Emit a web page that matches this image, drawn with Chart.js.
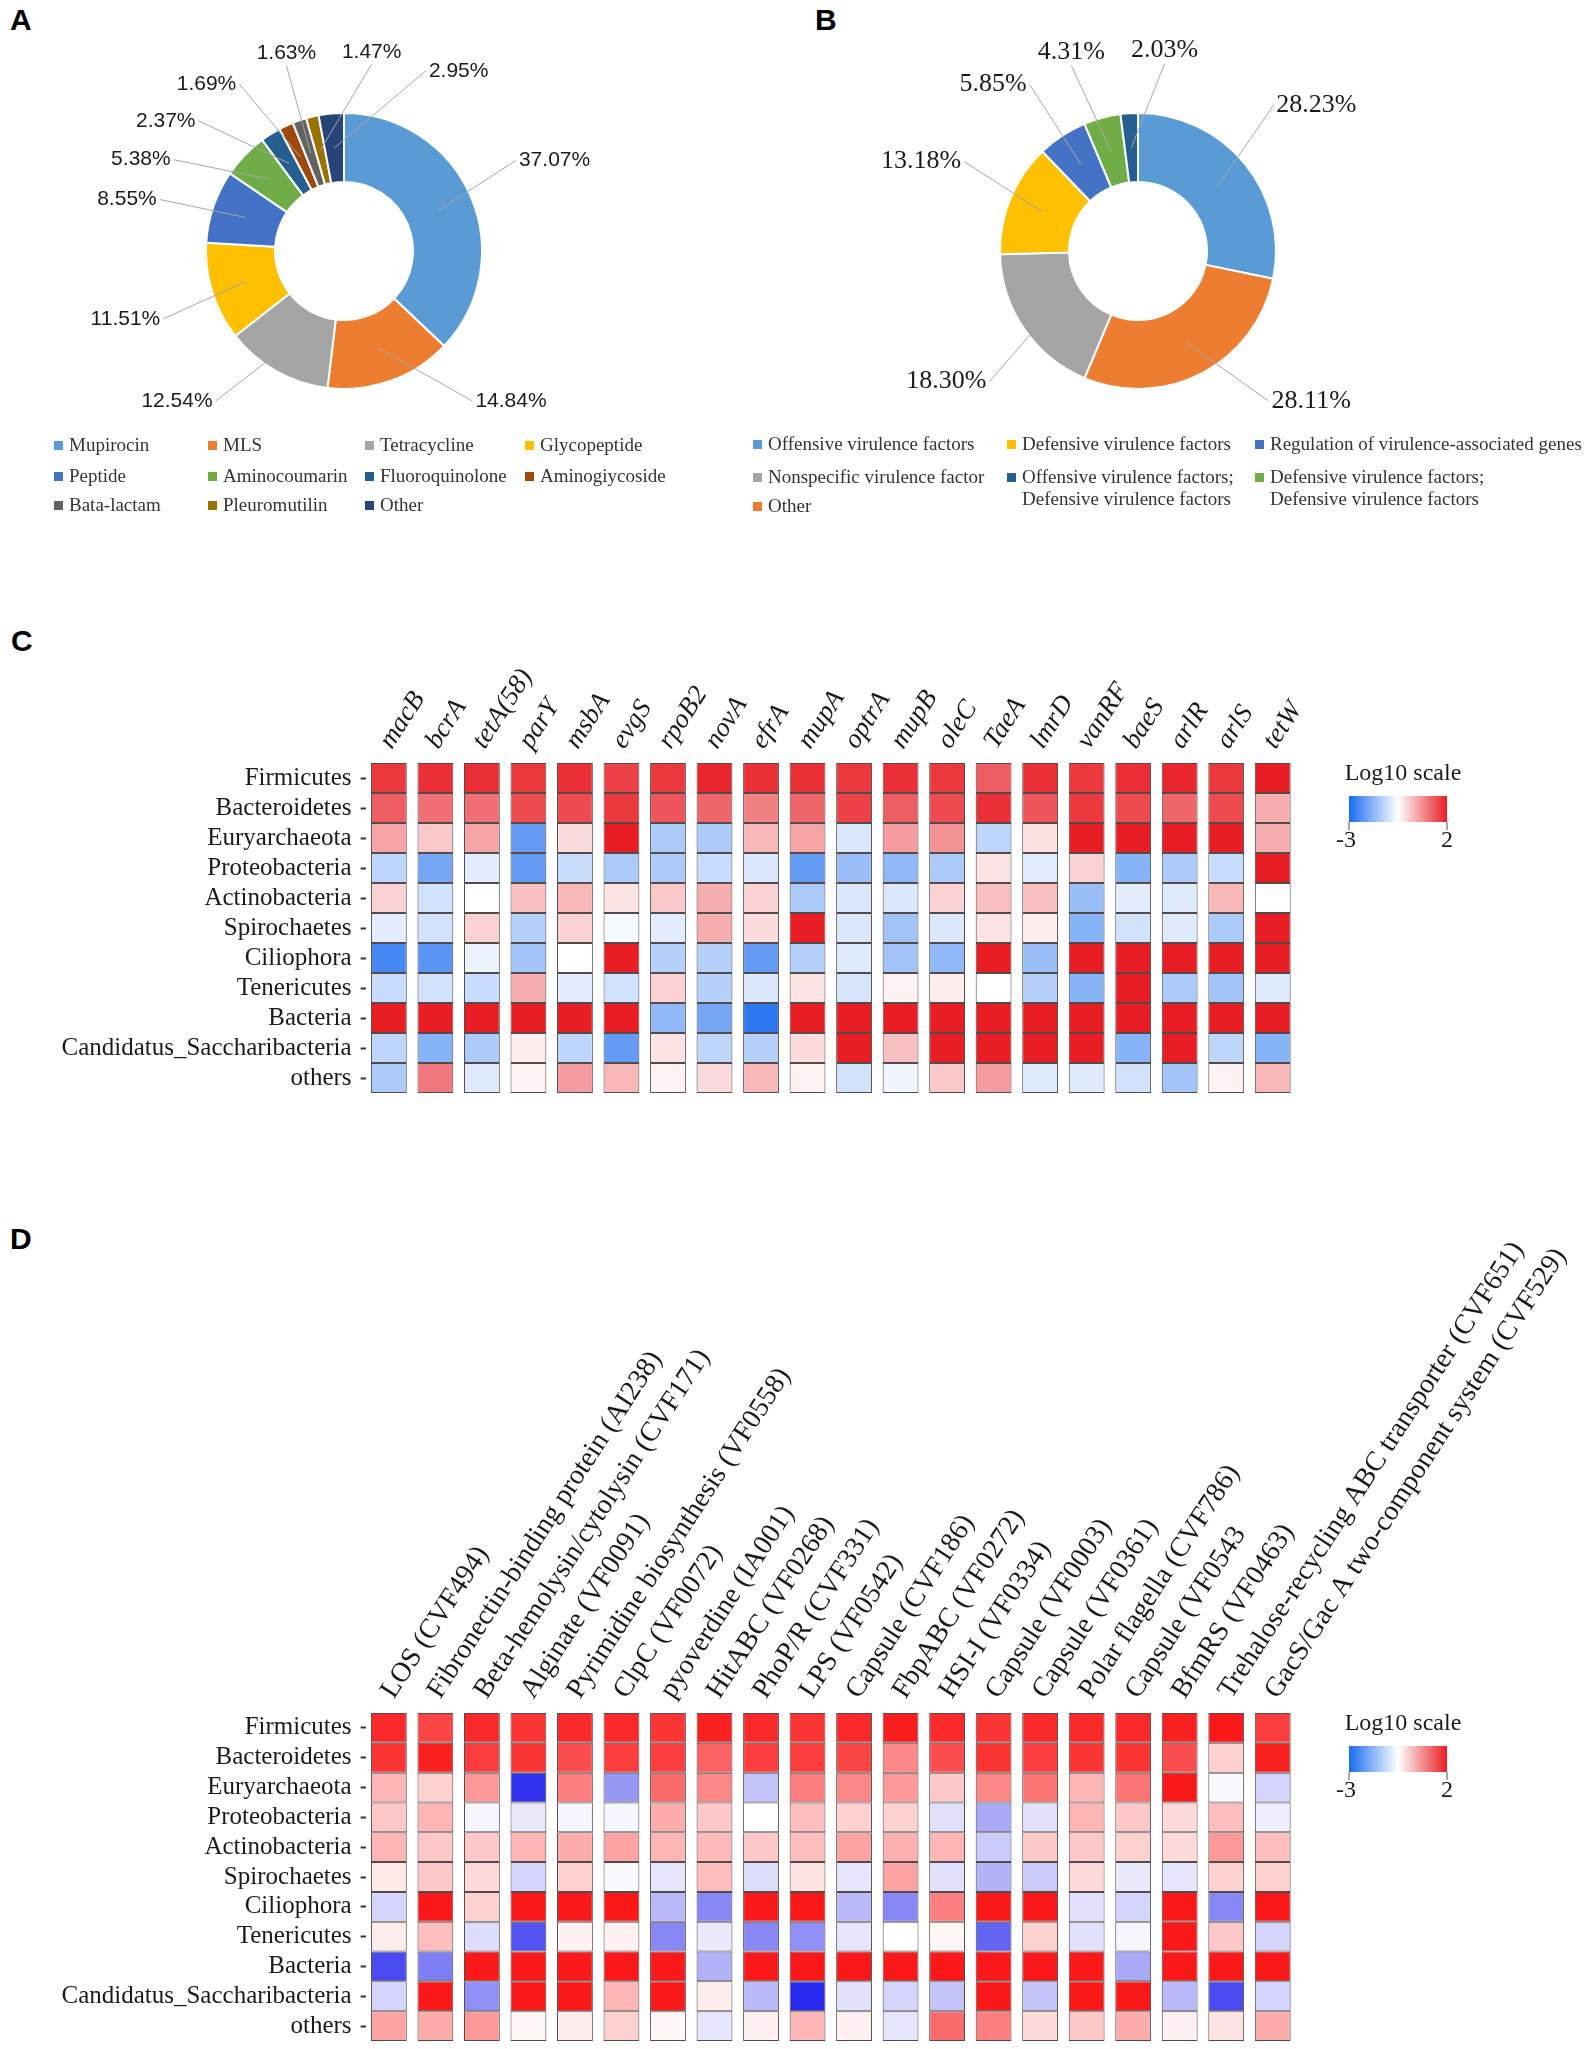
<!DOCTYPE html>
<html>
<head>
<meta charset="utf-8">
<script src="https://cdn.jsdelivr.net/npm/chart.js@4.4.0/dist/chart.umd.min.js"></script>
<style>
body { margin: 0; background: #fff; }
#page { position: relative; width: 1594px; height: 2049px; overflow: hidden; background: #fff; font-family: 'Liberation Serif', 'Times New Roman', serif; }
.box { position: absolute; }
.tag { position: absolute; font: bold 30px/30px 'Liberation Sans', Arial, sans-serif; color: #000; }
.lg { position: absolute; font-size: 19px; line-height: 22px; color: #333; white-space: pre; padding-left: 15px; }
.lg i { position: absolute; left: 0; top: 7px; width: 9px; height: 9px; }
</style>
</head>
<body>
<div id="page">
  <div class="tag" style="left:10px;top:5px">A</div>
  <div class="tag" style="left:815px;top:5px">B</div>
  <div class="tag" style="left:11px;top:626px">C</div>
  <div class="tag" style="left:10px;top:1224px">D</div>
  <div class="box" style="left:0;top:0;width:688px;height:502px"><canvas id="pieA"></canvas></div>
  <div class="box" style="left:794px;top:0;width:688px;height:502px"><canvas id="pieB"></canvas></div>
  <div class="box" style="left:0;top:600px;width:1594px;height:493px"><canvas id="heatC"></canvas></div>
  <div class="box" style="left:0;top:1100px;width:1594px;height:941px"><canvas id="heatD"></canvas></div>
</div>
<script>
// ---- panel A: resistance gene classes
const argClasses = ['Mupirocin', 'MLS', 'Tetracycline', 'Glycopeptide', 'Peptide', 'Aminocoumarin',
  'Fluoroquinolone', 'Aminogiycoside', 'Bata-lactam', 'Pleuromutilin', 'Other'];
const argShare = [37.07, 14.84, 12.54, 11.51, 8.55, 5.38, 2.37, 1.69, 1.63, 1.47, 2.95];
const argColors = ['#5b9bd5', '#ed7d31', '#a5a5a5', '#ffc000', '#4472c4', '#70ad47',
  '#255e91', '#9e480e', '#636363', '#997300', '#264478'];

// ---- panel B: virulence factor classes (clockwise from top)
const vfClasses = ['Offensive virulence factors', 'Other', 'Nonspecific virulence factor',
  'Defensive virulence factors', 'Regulation of virulence-associated genes',
  'Defensive virulence factors;\nDefensive virulence factors',
  'Offensive virulence factors;\nDefensive virulence factors'];
const vfShare = [28.23, 28.11, 18.30, 13.18, 5.85, 4.31, 2.03];
const vfColors = ['#5b9bd5', '#ed7d31', '#a5a5a5', '#ffc000', '#4472c4', '#70ad47', '#255e91'];
const vfLegendOrder = [0, 3, 4, 2, 6, 5, 1];

// ---- heatmaps C and D
const taxa = ['Firmicutes', 'Bacteroidetes', 'Euryarchaeota', 'Proteobacteria', 'Actinobacteria',
  'Spirochaetes', 'Ciliophora', 'Tenericutes', 'Bacteria', 'Candidatus_Saccharibacteria', 'others'];
const scaleTicks = [-3, 2];

const argGenes = ['macB', 'bcrA', 'tetA(58)', 'parY', 'msbA', 'evgS', 'rpoB2', 'novA', 'efrA', 'mupA',
  'optrA', 'mupB', 'oleC', 'TaeA', 'lmrD', 'vanRF', 'baeS', 'arlR', 'arlS', 'tetW'];
// log10 abundance, one row per taxon
const argLog = [
  [1.7, 1.8, 1.8, 1.7, 1.8, 1.6, 1.7, 1.9, 1.8, 1.8, 1.7, 1.8, 1.7, 1.3, 1.8, 1.7, 1.8, 1.9, 1.7, 2.0],
  [1.3, 1.1, 1.1, 1.5, 1.5, 1.7, 1.4, 1.2, 0.9, 1.2, 1.6, 1.3, 1.5, 1.8, 1.4, 1.7, 1.5, 1.2, 1.5, 0.4],
  [0.5, 0.1, 0.5, -2.2, -0.1, 2.0, -1.4, -1.4, 0.3, 0.5, -0.9, 0.6, 0.7, -1.2, -0.15, 2.0, 2.0, 2.0, 2.0, 0.4],
  [-1.2, -2.0, -0.8, -2.2, -1.1, -1.4, -1.4, -1.1, -0.9, -2.2, -1.6, -1.7, -1.4, -0.2, -0.8, 0.0, -1.8, -1.4, -1.1, 2.0],
  [0.0, -1.0, -0.5, 0.2, 0.3, -0.2, 0.1, 0.4, 0.0, -1.4, -0.9, -0.9, 0.0, 0.2, 0.2, -1.6, -0.8, -0.85, 0.3, -0.5],
  [-0.8, -1.0, 0.0, -1.3, 0.0, -0.6, -0.8, 0.4, -0.1, 2.0, -0.9, -1.5, -0.9, -0.2, -0.3, -1.8, -1.0, -0.85, -1.4, 2.0],
  [-2.5, -2.3, -0.7, -1.5, -0.5, 2.0, -1.3, -1.3, -2.2, -1.3, -0.85, -1.5, -1.7, 2.0, -1.6, 2.0, 2.0, 2.0, 2.0, 2.0],
  [-1.1, -1.0, -1.1, 0.4, -0.8, -1.0, 0.0, -1.3, -0.9, -0.2, -0.95, -0.35, -0.3, -0.5, -1.3, -1.8, 2.0, -1.4, -1.5, -0.85],
  [2.0, 2.0, 2.0, 2.0, 2.0, 2.0, -1.7, -2.0, -2.8, 2.0, 2.0, 2.0, 2.0, 2.0, 2.0, 2.0, 2.0, 2.0, 2.0, 2.0],
  [-1.2, -1.8, -1.4, -0.3, -1.2, -2.2, -0.2, -1.2, -1.3, -0.1, 2.0, 0.2, 2.0, 2.0, 2.0, 2.0, -1.8, 2.0, -1.2, -1.8],
  [-1.4, 1.0, -0.85, -0.35, 0.6, 0.3, -0.35, -0.1, 0.3, -0.35, -1.0, -0.65, 0.1, 0.6, -0.85, -0.85, -1.0, -1.5, -0.35, 0.3]
];

const vfGenes = ['LOS (CVF494)', 'Fibronectin-binding protein (AI238)', 'Beta-hemolysin/cytolysin (CVF171)',
  'Alginate (VF0091)', 'Pyrimidine biosynthesis (VF0558)', 'ClpC (VF0072)', 'pyoverdine (IA001)',
  'HitABC (VF0268)', 'PhoP/R (CVF331)', 'LPS (VF0542)', 'Capsule (CVF186)', 'FbpABC (VF0272)',
  'HSI-I (VF0334)', 'Capsule (VF0003)', 'Capsule (VF0361)', 'Polar flagella (CVF786)', 'Capsule (VF0543',
  'BfmRS (VF0463)', 'Trehalose-recycling ABC transporter (CVF651)', 'GacS/Gac A two-component system (CVF529)'];
const vfLog = [
  [1.8, 1.5, 1.8, 1.7, 1.8, 1.8, 1.7, 1.9, 1.8, 1.7, 1.8, 1.95, 1.8, 1.7, 1.8, 1.8, 1.8, 1.9, 2.0, 1.6],
  [1.7, 1.9, 1.6, 1.7, 1.4, 1.6, 1.6, 1.2, 1.6, 1.6, 1.5, 0.8, 1.4, 1.7, 1.6, 1.7, 1.7, 1.4, 0.0, 1.9],
  [0.3, 0.0, 0.6, -2.9, 0.9, -1.7, 1.1, 0.8, -1.2, 0.9, 0.8, 0.6, 0.1, 0.8, 1.0, 0.3, 1.0, 2.0, -0.55, -1.0],
  [0.1, 0.3, -0.6, -0.75, -0.6, -0.6, 0.4, 0.1, -0.5, 0.2, 0.0, 0.0, -0.85, -1.5, -0.85, 0.3, 0.1, -0.1, 0.2, -0.7],
  [0.3, 0.1, 0.1, 0.3, 0.4, 0.5, 0.3, 0.25, 0.1, 0.2, 0.5, 0.35, 0.3, -1.1, 0.1, 0.1, 0.0, -0.1, 0.6, 0.2],
  [-0.25, 0.1, -0.1, -1.0, 0.0, -0.55, -0.8, 0.2, -0.9, -0.2, -0.8, 0.5, -0.85, -1.4, -1.1, -0.1, -0.75, -0.8, 0.0, 0.0],
  [-1.0, 2.0, 0.0, 2.0, 2.0, 2.0, -1.3, -1.9, 2.0, 2.0, -1.3, -1.9, 0.9, 2.0, 2.0, -0.85, -1.0, 2.0, -1.9, 2.0],
  [-0.3, 0.2, -0.9, -2.5, -0.35, -0.35, -1.9, -0.75, -1.9, -1.8, -0.8, -0.5, -0.4, -2.3, 0.0, -0.85, -0.6, 2.0, 0.1, -1.0],
  [-2.6, -2.0, 2.0, 2.0, 2.0, 2.0, 2.0, -1.4, 2.0, 2.0, 2.0, 2.0, 2.0, 2.0, 2.0, 2.0, -1.5, 2.0, 2.0, 2.0],
  [-1.0, 2.0, -1.8, 2.0, 2.0, 0.3, 2.0, -0.3, -1.3, -3.0, -0.85, -1.0, -1.2, 2.0, -1.2, 2.0, 2.0, -1.3, -2.6, -1.0],
  [0.5, 0.4, 0.6, -0.4, -0.3, 0.0, -0.4, -0.8, -0.35, 0.3, -0.35, -0.8, 1.1, 0.9, -0.1, 0.1, 0.4, -0.35, -0.2, 0.4]
];

const page = document.getElementById('page');

// blue - white - red, white sits in the middle of the -3..2 range
function heatColor(v, lo, hi) {
  const min = scaleTicks[0], max = scaleTicks[1], mid = (min + max) / 2;
  let t, c;
  if (v >= mid) { t = Math.min(1, (v - mid) / (max - mid)); c = hi; }
  else { t = Math.min(1, (mid - v) / (mid - min)); c = lo; }
  const ch = k => Math.round(255 + (c[k] - 255) * t);
  return 'rgb(' + ch(0) + ',' + ch(1) + ',' + ch(2) + ')';
}

const rad = d => d * Math.PI / 180;

// excel style labels with leader lines, spread so they don't collide
const leaderLabels = {
  id: 'leaderLabels',
  afterDatasetsDraw(chart, args, opts) {
    const arcs = chart.getDatasetMeta(0).data;
    const vals = chart.data.datasets[0].data;
    const ctx = chart.ctx;
    ctx.save();
    ctx.font = opts.font;
    const texts = vals.map(v => v.toFixed(2) + '%');
    const widths = texts.map(t => ctx.measureText(t).width);
    const R = arcs[0].outerRadius, cx = arcs[0].x, cy = arcs[0].y;
    const rc = (a, w) => R + opts.offset + 0.6 * w * Math.abs(Math.sin(rad(a))) + opts.half * Math.abs(Math.cos(rad(a)));
    const gap = (a, w) => {
      const c = Math.max(Math.abs(Math.cos(rad(a))), 1e-3), s = Math.max(Math.abs(Math.sin(rad(a))), 1e-3);
      return Math.min((w + 24) / c, (2 * opts.half + 20) / s) / rc(a, w) * 180 / Math.PI;
    };
    const mids = arcs.map(a => (a.startAngle + a.endAngle) / 2 * 180 / Math.PI + 90);
    const pos = mids.slice();
    const clamp = i => {
      const a = ((pos[i] % 360) + 360) % 360;
      const r = rc(a, widths[i]);
      if (a > 90 && a < 270 && -r * Math.cos(rad(a)) > opts.maxDy) {
        const b = Math.acos(-opts.maxDy / r) * 180 / Math.PI;
        pos[i] += (a < 180 ? b : 360 - b) - a;
      }
    };
    for (let k = 0; k < 400; k++) {
      pos.forEach((p, i) => clamp(i));
      for (let i = 0; i < pos.length; i++) {
        const j = (i + 1) % pos.length;
        const next = j === 0 ? pos[0] + 360 : pos[j];
        const g = gap((pos[i] + next) / 2, (widths[i] + widths[j]) / 2);
        const d = next - pos[i];
        if (d < g) { const s = (g - d) / 4; pos[i] -= s; pos[j] += s; }
      }
    }
    ctx.textAlign = 'center';
    ctx.textBaseline = 'middle';
    arcs.forEach((a, i) => {
      const m = rad(mids[i] - 90);
      const rm = (a.innerRadius + a.outerRadius) / 2;
      const x0 = cx + rm * Math.cos(m), y0 = cy + rm * Math.sin(m);
      const p = pos[i], r = rc(p, widths[i]);
      const sp = Math.sin(rad(p)), cp = Math.cos(rad(p));
      const lx = cx + r * sp, ly = cy - r * cp;
      let ex, ey;
      if (Math.abs(sp) > 0.45) { ex = lx - Math.sign(sp) * (widths[i] / 2 + 3); ey = ly; }
      else { ex = lx; ey = ly + Math.sign(cp) * (opts.half + 2); }
      ctx.strokeStyle = '#a6a6a6';
      ctx.lineWidth = 1;
      ctx.beginPath();
      ctx.moveTo(x0, y0);
      ctx.lineTo(ex, ey);
      ctx.stroke();
      ctx.fillStyle = opts.color;
      ctx.fillText(texts[i], lx, ly);
    });
    ctx.restore();
  }
};

function donut(id, values, colors, labelFont, half) {
  new Chart(document.getElementById(id), {
    type: 'doughnut',
    data: { labels: values.map((v, i) => i), datasets: [{ data: values, backgroundColor: colors, borderColor: '#fff', borderWidth: 2 }] },
    options: {
      responsive: true,
      maintainAspectRatio: false,
      animation: false,
      cutout: '50%',
      layout: { padding: { left: 205, right: 205, top: 112, bottom: 112 } },
      plugins: {
        legend: { display: false },
        tooltip: { enabled: false },
        leaderLabels: { font: labelFont, color: '#1a1a1a', offset: 48, half: half, maxDy: 150 }
      }
    },
    plugins: [leaderLabels]
  });
}

function legend(names, colors, order, xs, ys) {
  order.forEach((idx, k) => {
    const el = document.createElement('div');
    el.className = 'lg';
    el.style.left = xs[k % xs.length] + 'px';
    el.style.top = (ys[Math.floor(k / xs.length)] - 11) + 'px';
    const sw = document.createElement('i');
    sw.style.background = colors[idx];
    el.appendChild(sw);
    el.appendChild(document.createTextNode(names[idx]));
    page.appendChild(el);
  });
}

donut('pieA', argShare, argColors, '21px "Liberation Sans", Arial, sans-serif', 10);
donut('pieB', vfShare, vfColors, '26px "Liberation Serif", "Times New Roman", serif', 11);
legend(argClasses, argColors, argClasses.map((n, i) => i), [54, 208, 365, 525], [445, 476, 505]);
legend(vfClasses, vfColors, vfLegendOrder, [753, 1007, 1255], [444, 477, 506]);

// colour key to the right of a heatmap
const colorKey = {
  id: 'colorKey',
  afterDraw(chart) {
    const { ctx, chartArea } = chart;
    const x0 = chartArea.right + 53, x1 = chartArea.right + 151;
    const top = chartArea.top + 33, h = 26;
    const g = ctx.createLinearGradient(x0, 0, x1, 0);
    for (let k = 0; k <= 20; k++) {
      const v = scaleTicks[0] + (scaleTicks[1] - scaleTicks[0]) * k / 20;
      g.addColorStop(k / 20, heatColor(v, [25, 108, 240], [232, 30, 36]));
    }
    ctx.save();
    ctx.fillStyle = g;
    ctx.fillRect(x0, top, x1 - x0, h);
    ctx.strokeStyle = '#888';
    ctx.lineWidth = 1.5;
    [x0, x1].forEach(x => { ctx.beginPath(); ctx.moveTo(x, top + h); ctx.lineTo(x, top + h + 8); ctx.stroke(); });
    ctx.fillStyle = '#1a1a1a';
    ctx.font = '24px "Liberation Serif", "Times New Roman", serif';
    ctx.textAlign = 'center';
    ctx.textBaseline = 'middle';
    ctx.fillText('Log10 scale', (x0 + x1) / 2 + 5, chartArea.top + 11);
    ctx.fillText(String(scaleTicks[0]), x0 - 3, top + h + 19);
    ctx.fillText(String(scaleTicks[1]), x1, top + h + 19);
    ctx.restore();
  }
};

function heatmap(id, cols, matrix, lo, hi, labelFont, topHeight, shift) {
  const datasets = taxa.map((name, i) => ({
    label: name,
    data: cols.map(() => 1),
    backgroundColor: matrix[i].map(v => heatColor(v, lo, hi)),
    borderColor: 'rgba(40,30,30,0.8)',
    borderWidth: 1,
    borderSkipped: false,
    barPercentage: 0.77,
    categoryPercentage: 1
  }));
  new Chart(document.getElementById(id), {
    type: 'bar',
    data: { labels: cols, datasets: datasets },
    options: {
      responsive: true,
      maintainAspectRatio: false,
      animation: false,
      layout: { autoPadding: false, padding: { left: 0, right: 298, top: 0, bottom: 0 } },
      plugins: { legend: { display: false }, tooltip: { enabled: false } },
      scales: {
        x: {
          position: 'top',
          stacked: true,
          grid: { display: false },
          border: { display: false },
          ticks: { autoSkip: false, minRotation: 57, maxRotation: 57, padding: 0, labelOffset: shift, color: '#1a1a1a', font: labelFont },
          // fixed band for the rotated names; no extra side padding
          afterFit: a => { a.height = topHeight; a.paddingLeft = 0; a.paddingRight = 0; }
        },
        y: {
          stacked: true,
          reverse: true,
          min: 0,
          max: taxa.length,
          grid: { display: true, drawOnChartArea: false, drawTicks: true, tickLength: 5, tickColor: '#333', tickWidth: 2 },
          border: { display: false },
          afterBuildTicks: a => { a.ticks = taxa.map((t, i) => ({ value: i + 0.5 })); },
          ticks: {
            autoSkip: false,
            padding: 9,
            color: '#1a1a1a',
            font: { family: '"Liberation Serif", "Times New Roman", serif', size: 25 },
            callback: v => taxa[Math.floor(v)]
          },
          afterFit: a => { a.width = 365.6; a.paddingTop = 0; a.paddingBottom = 0; }
        }
      }
    },
    plugins: [colorKey]
  });
}

heatmap('heatC', argGenes, argLog, [25, 108, 240], [232, 30, 36],
  { family: '"Liberation Serif", "Times New Roman", serif', size: 27, style: 'italic' }, 163, 24);
heatmap('heatD', vfGenes, vfLog, [40, 40, 238], [250, 24, 24],
  { family: '"Liberation Serif", "Times New Roman", serif', size: 28 }, 613, 27);
</script>
</body>
</html>
